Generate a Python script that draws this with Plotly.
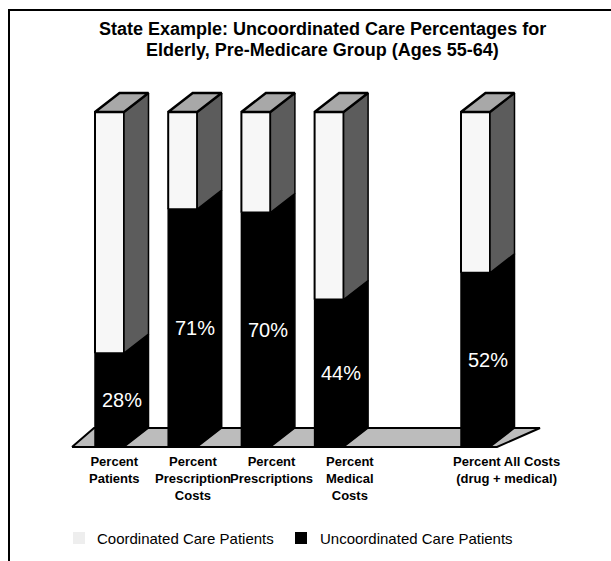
import plotly.graph_objects as go

# ---- data -------------------------------------------------------------
categories = [
    "Percent<br>Patients",
    "Percent<br>Prescription<br>Costs",
    "Percent<br>Prescriptions",
    "Percent<br>Medical<br>Costs",
    "Percent All Costs<br>(drug + medical)",
]
uncoordinated = [28, 71, 70, 44, 52]   # black segment (%)
coordinated = [72, 29, 30, 56, 48]     # light segment (%)
value_labels = ["28%", "71%", "70%", "44%", "52%"]
series_names = ["Coordinated Care Patients", "Uncoordinated Care Patients"]
title_lines = [
    "State Example: Uncoordinated Care Percentages for",
    "Elderly, Pre-Medicare Group (Ages 55-64)",
]

# ---- canvas / scale ---------------------------------------------------
W, H = 611, 561
PX_X = 73.2      # pixels per category slot
PX_Y = 3.35      # pixels per percentage point
X0_PX = 109.5    # pixel column of first bar's front centre
Y0_PX = 447      # pixel row of the 0 % baseline

x_range = [-X0_PX / PX_X, (W - X0_PX) / PX_X]
y_range = [-(H - Y0_PX) / PX_Y, Y0_PX / PX_Y]

HALF = 14.5 / PX_X     # half width of a bar's front face
DX = 24.5 / PX_X       # depth offset (x)
DY = 19.0 / PX_Y       # depth offset (y)

FRONT_LIGHT = "#f7f7f7"
SIDE_LIGHT = "#5c5c5c"
TOP_FACE = "#a8a8a8"
FLOOR = "#bcbcbc"
DARK = "#000000"

# slot of each category: an empty slot separates the last (combined) bar
slots = list(range(len(categories) - 1)) + [len(categories)]

FONT = "Liberation Sans, Arial, sans-serif"

fig = go.Figure()


def poly(xs, ys, fill, lw=1.5):
    fig.add_trace(go.Scatter(
        x=xs + [xs[0]], y=ys + [ys[0]], mode="lines", fill="toself",
        fillcolor=fill, line=dict(color=DARK, width=lw),
        hoverinfo="skip", showlegend=False,
    ))


# floor plane under the bars
fl = slots[0] - HALF - 23 / PX_X
fr = slots[-1] + HALF + 7 / PX_X
poly([fl, fr, fr + 43 / PX_X, fl + 22 / PX_X],
     [0, 0, DY, DY], FLOOR, lw=2)

# 3-D stacked bars
for s, lo, hi in zip(slots, uncoordinated, coordinated):
    top = lo + hi
    l, r = s - HALF, s + HALF
    # uncoordinated (black) part: front and side
    poly([l, r, r, l], [0, 0, lo, lo], DARK)
    poly([r, r + DX, r + DX, r], [0, DY, lo + DY, lo], DARK)
    # coordinated (light) part: front and side
    poly([l, r, r, l], [lo, lo, top, top], FRONT_LIGHT, lw=2)
    poly([r, r + DX, r + DX, r], [lo, lo + DY, top + DY, top], SIDE_LIGHT)
    # top face
    poly([l, r, r + DX, l + DX], [top, top, top + DY, top + DY], TOP_FACE, lw=2.5)

annotations = []

# value labels inside the black segment
for s, v, txt in zip(slots, uncoordinated, value_labels):
    annotations.append(dict(
        x=s + DX / 2, y=v / 2, xref="x", yref="y", text=txt, showarrow=False,
        font=dict(family=FONT, size=20, color="white"),
        xanchor="center", yanchor="middle",
    ))

# category labels under the floor
for s, cat in zip(slots, categories):
    annotations.append(dict(
        x=0.075 + s * 1.071, y=-5 / PX_Y, xref="x", yref="y",
        text="<b>" + cat + "</b>", showarrow=False,
        font=dict(family=FONT, size=13, color=DARK),
        xanchor="center", yanchor="top", align="center",
    ))


def px(xp, yp):
    return xp / W, 1 - yp / H


# title
for i, line in enumerate(title_lines):
    x, y = px(322, 29 + 21 * i)
    annotations.append(dict(
        x=x, y=y, xref="paper", yref="paper", text="<b>" + line + "</b>",
        showarrow=False, font=dict(family=FONT, size=18, color=DARK),
        xanchor="center", yanchor="middle",
    ))

# legend
legend_items = [(73, "#eeeeee", series_names[0], 95),
                (295, DARK, series_names[1], 318)]
shapes = []
for sx, col, name, tx in legend_items:
    x0, y0 = px(sx, 544)
    x1, y1 = px(sx + 12, 532)
    shapes.append(dict(type="rect", xref="paper", yref="paper",
                       x0=x0, x1=x1, y0=y0, y1=y1,
                       fillcolor=col, line=dict(width=0)))
    x, y = px(tx, 538)
    annotations.append(dict(
        x=x, y=y, xref="paper", yref="paper", text=name, showarrow=False,
        font=dict(family=FONT, size=15, color=DARK),
        xanchor="left", yanchor="middle",
    ))

# frame (left and top edges)
lx, ty = px(9, 10)
shapes.append(dict(type="line", xref="paper", yref="paper",
                   x0=lx, x1=lx, y0=ty, y1=0, line=dict(color=DARK, width=2)))
shapes.append(dict(type="line", xref="paper", yref="paper",
                   x0=px(8, 0)[0], x1=1, y0=ty, y1=ty,
                   line=dict(color=DARK, width=2)))

fig.update_layout(
    width=W, height=H, autosize=False,
    margin=dict(l=0, r=0, t=0, b=0),
    paper_bgcolor="white", plot_bgcolor="white",
    xaxis=dict(range=x_range, visible=False, fixedrange=True),
    yaxis=dict(range=y_range, visible=False, fixedrange=True),
    showlegend=False,
    annotations=annotations,
    shapes=shapes,
)

fig.write_html("out.html")
